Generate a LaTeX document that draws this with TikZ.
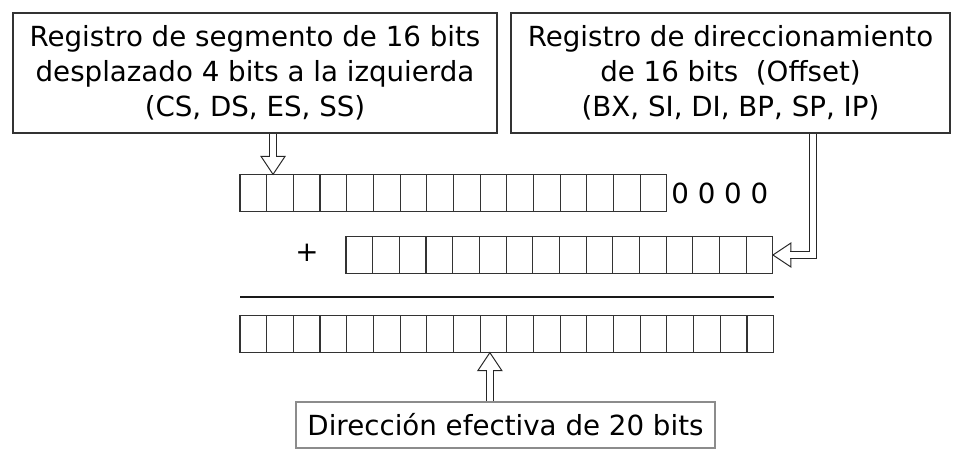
\documentclass[tikz,border=0pt]{standalone}
\usepackage{fontspec}
\setmainfont{DejaVu Sans}

\begin{document}
\begin{tikzpicture}[
		font=\fontsize{19.7}{24.9}\selectfont,
		regbox/.style={draw=black!80, line width=0.9pt, inner sep=2pt, align=center},
		bit/.style={draw=black!80, line width=0.8pt, minimum width=0.667cm, minimum height=0.93cm, inner sep=0pt, outer sep=0pt},
		shaft/.style={draw=black!85, line width=0.7pt, double=white, double distance=4.6pt, line join=miter, shorten <=0.6pt, shorten >=-0.4pt},
		head/.pic={\draw[draw=black!85, fill=white, line width=0.7pt, line join=miter] (0,0) -- (-0.45,0.3) -- (-0.45,-0.3) -- cycle;}
	]
	\useasboundingbox (0,0) rectangle (24,11.55); % same proportions as the reference
	% the two source registers
	\node[regbox, minimum width=12.1cm, minimum height=3cm] (seg) at (6.375,9.725) {Registro de segmento de 16 bits\\desplazado 4 bits a la izquierda\\(CS, DS, ES, SS)};
	\node[regbox, minimum width=10.975cm, minimum height=3cm] (off) at (18.2625,9.725) {Registro de direccionamiento\\de 16 bits~ (Offset)\\(BX, SI, DI, BP, SP, IP)};
	% shifted segment, 16 cells and four zeros
	\foreach \i in {1,...,16}
		\node[bit] (r1c\i) at ({6.0+(\i-0.5)*0.667},6.725) {};
	\node[anchor=west, inner sep=3pt] (pad) at (r1c16.east) {0 0 0 0};
	% offset, 16 cells
	\node (plus) at (7.675,5.225) {+};
	\foreach \i in {1,...,16}
		\node[bit] (r2c\i) at ({8.65+(\i-0.5)*0.667},5.175) {};
	% the 20 bit result and the sum line above it
	\foreach \i in {1,...,20}
		\node[bit] (r3c\i) at ({6.0+(\i-0.5)*0.667},3.2) {};
	\draw[draw=black!90, line width=1pt] ([yshift=0.46cm]r3c1.north west) -- ([yshift=0.46cm]r3c20.north east);
	\node[regbox, draw=black!45, line width=0.8pt, minimum width=10.475cm, minimum height=1.15cm] (dir) at (12.6375,0.925) {Dirección efectiva de 20 bits};
	% hollow arrows
	\coordinate (t1) at ([xshift=-0.175cm]r1c2.north);
	\pic[rotate=-90] at (t1) {head};
	\draw[shaft] (seg.south -| t1) -- ([yshift=0.45cm]t1);
	\coordinate (t2) at (r2c16.east);
	\coordinate (bend) at ([xshift=1cm]t2);
	\pic[rotate=180] at (t2) {head};
	\draw[shaft] (off.south -| bend) -- (bend) -- ([xshift=0.45cm]t2);
	\coordinate (t3) at ([xshift=-0.09cm]r3c10.south);
	\pic[rotate=90] at (t3) {head};
	\draw[shaft] (dir.north -| t3) -- ([yshift=-0.45cm]t3);
\end{tikzpicture}
\end{document}
